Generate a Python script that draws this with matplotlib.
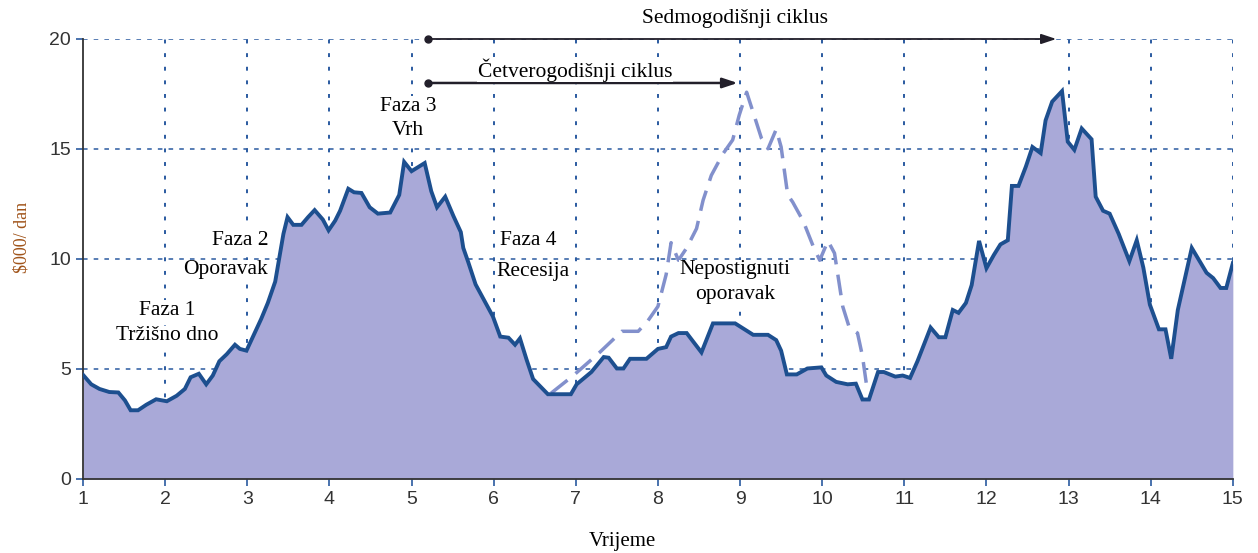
import matplotlib
matplotlib.use("Agg")
import matplotlib.pyplot as plt

# main series (time, $000/dan)
t_main = [1.0, 1.10, 1.2, 1.32, 1.43, 1.51, 1.58, 1.67, 1.77, 1.89, 2.02, 2.14, 2.24, 2.31, 2.41,
          2.50, 2.58, 2.66, 2.75, 2.85, 2.91, 2.99, 3.07, 3.17, 3.25, 3.34, 3.40, 3.44, 3.49, 3.56,
          3.66, 3.74, 3.82, 3.92, 3.99, 4.07, 4.13, 4.23, 4.30, 4.39, 4.49, 4.59, 4.74, 4.85, 4.91,
          5.0, 5.16, 5.24, 5.31, 5.41, 5.51, 5.60, 5.63, 5.69, 5.78, 5.89, 5.99, 6.08, 6.18, 6.26,
          6.32, 6.40, 6.48, 6.66, 6.94, 7.01, 7.19, 7.34, 7.40, 7.50, 7.58, 7.66, 7.86, 8.00, 8.10,
          8.16, 8.25, 8.35, 8.53, 8.67, 8.94, 9.16, 9.34, 9.44, 9.50, 9.57, 9.69, 9.82, 9.99, 10.05,
          10.17, 10.31, 10.41, 10.49, 10.57, 10.68, 10.75, 10.89, 10.98, 11.07, 11.16, 11.32, 11.42,
          11.50, 11.59, 11.66, 11.75, 11.82, 11.91, 12.00, 12.09, 12.17, 12.26, 12.31, 12.39, 12.48,
          12.56, 12.66, 12.72, 12.80, 12.92, 12.99, 13.07, 13.16, 13.28, 13.33, 13.42, 13.50, 13.61,
          13.74, 13.83, 13.91, 13.99, 14.10, 14.18, 14.25, 14.33, 14.50, 14.68, 14.76, 14.85, 14.92,
          15.0]
v_main = [4.73, 4.30, 4.09, 3.95, 3.93, 3.57, 3.12, 3.12, 3.37, 3.62, 3.53, 3.78, 4.09, 4.62, 4.78,
          4.30, 4.70, 5.35, 5.67, 6.10, 5.91, 5.83, 6.47, 7.28, 8.00, 8.97, 10.26, 11.14, 11.90, 11.55,
          11.55, 11.90, 12.22, 11.79, 11.30, 11.74, 12.19, 13.19, 13.03, 13.00, 12.35, 12.06, 12.11,
          12.91, 14.41, 13.99, 14.36, 13.08, 12.35, 12.83, 11.95, 11.22, 10.50, 9.86, 8.84, 8.08, 7.39,
          6.47, 6.42, 6.10, 6.39, 5.43, 4.54, 3.85, 3.85, 4.30, 4.86, 5.54, 5.51, 5.02, 5.02, 5.46,
          5.46, 5.91, 5.99, 6.47, 6.63, 6.63, 5.75, 7.07, 7.07, 6.55, 6.55, 6.31, 5.83, 4.75, 4.75,
          5.02, 5.07, 4.70, 4.41, 4.30, 4.33, 3.61, 3.61, 4.86, 4.86, 4.65, 4.70, 4.59, 5.35, 6.88,
          6.44, 6.44, 7.68, 7.55, 8.00, 8.81, 10.82, 9.58, 10.18, 10.66, 10.85, 13.32, 13.32, 14.20,
          15.09, 14.81, 16.30, 17.15, 17.63, 15.33, 14.96, 15.93, 15.44, 12.83, 12.19, 12.06, 11.14,
          9.90, 10.85, 9.61, 7.92, 6.80, 6.80, 5.46, 7.68, 10.50, 9.37, 9.13, 8.68, 8.68, 9.81]

# hypothetical four-year cycle (dashed)
t_dash = [6.70, 6.97, 7.29, 7.56, 7.76, 7.88, 8.00, 8.10, 8.16, 8.25, 8.35, 8.47, 8.55, 8.65, 8.79,
          8.91, 8.99, 9.08, 9.17, 9.26, 9.34, 9.44, 9.50, 9.58, 9.64, 9.77, 9.89, 9.97, 10.07, 10.15,
          10.25, 10.33, 10.43, 10.49, 10.55]
v_dash = [3.90, 4.70, 5.75, 6.71, 6.71, 7.20, 7.84, 9.29, 10.74, 9.94, 10.50, 11.38, 12.67, 13.80,
          14.77, 15.41, 16.54, 17.58, 16.54, 15.49, 15.01, 15.89, 15.09, 12.91, 12.59, 11.71, 10.58,
          9.94, 10.82, 10.26, 7.84, 6.88, 6.63, 5.59, 4.00]

x_ticks = list(range(1, 16))
y_ticks = [0, 5, 10, 15, 20]

fig = plt.figure(figsize=(12.58, 5.53), dpi=100)
ax = fig.add_axes([0.066, 0.134, 0.914, 0.7955])

grid_col = "#2a5aa0"
for yv in y_ticks[1:]:
    ax.plot([1, 15], [yv, yv], color=grid_col, lw=1.1, ls=(0, (3, 4)), zorder=1)
for xv in x_ticks[1:]:
    ax.plot([xv, xv], [0, 20], color=grid_col, lw=1.4, ls=(0, (2, 5)), zorder=1)

ax.fill_between(t_main, v_main, 0, color="#a9a9d8", lw=0, zorder=2)
ax.plot(t_dash, v_dash, color="#8290cc", lw=2.5, ls=(0, (6, 3)), zorder=3)
ax.plot(t_main, v_main, color="#1d4f8f", lw=2.8, zorder=4, solid_joinstyle="miter")

# cycle arrows
ax.annotate("", xy=(12.85, 20), xytext=(5.2, 20),
            arrowprops=dict(arrowstyle="-|>,head_length=0.9,head_width=0.3", color="#221f2a", lw=1.3,
                            shrinkA=0, shrinkB=0), zorder=5, annotation_clip=False)
ax.annotate("", xy=(8.97, 18.0), xytext=(5.2, 18.0),
            arrowprops=dict(arrowstyle="-|>,head_length=0.9,head_width=0.3", color="#221f2a", lw=1.8,
                            shrinkA=0, shrinkB=0), zorder=5)
ax.plot([5.2, 5.2], [20, 18], "o", color="#221f2a", ms=5, zorder=6, clip_on=False)

serif = "Liberation Serif"
fs = 15.5
box = dict(facecolor="white", edgecolor="none", pad=0.5)
labels = [
    (8.94, 20.95, "Sedmogodišnji ciklus"),
    (6.99, 18.6, "Četverogodišnji ciklus"),
    (2.03, 7.65, "Faza 1"),
    (2.03, 6.5, "Tržišno dno"),
    (2.92, 10.86, "Faza 2"),
    (2.73, 9.5, "Oporavak"),
    (4.96, 16.95, "Faza 3"),
    (4.96, 15.85, "Vrh"),
    (6.42, 10.86, "Faza 4"),
    (6.48, 9.45, "Recesija"),
    (8.94, 9.5, "Nepostignuti"),
    (8.94, 8.4, "oporavak"),
]
for x, y, s in labels:
    ax.text(x, y, s, family=serif, fontsize=fs, ha="center", va="center", bbox=box, zorder=5)

ax.set_xlim(1, 15)
ax.set_ylim(0, 20)
ax.set_xticks(x_ticks)
ax.set_yticks(y_ticks)
ax.tick_params(axis="both", colors=grid_col, labelcolor="#333333", labelsize=14, length=5, width=1.2)
for lab in ax.get_xticklabels() + ax.get_yticklabels():
    lab.set_family("Liberation Sans")
for s in ["top", "right"]:
    ax.spines[s].set_visible(False)
for s in ["left", "bottom"]:
    ax.spines[s].set_color("#333333")
    ax.spines[s].set_linewidth(1.3)

ax.set_xlabel("Vrijeme", family=serif, fontsize=15)
ax.xaxis.set_label_coords(0.469, -0.12)
ax.set_ylabel("$000/ dan", family=serif, fontsize=13, color="#a0541a")
ax.yaxis.set_label_coords(-0.046, 0.55)

fig.savefig("out.png", dpi=100)
